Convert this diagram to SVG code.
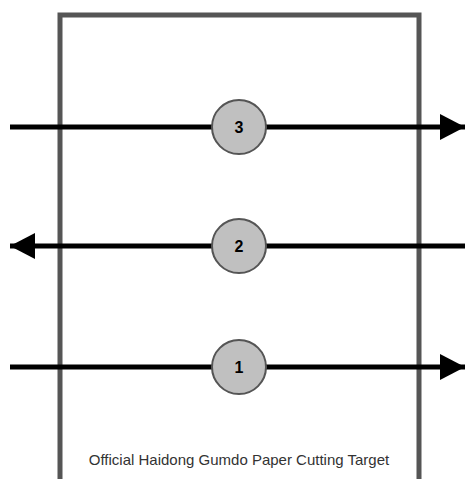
<svg xmlns="http://www.w3.org/2000/svg" width="465" height="479" viewBox="0 0 465 479">
<style>
.line{stroke:#000;stroke-width:5;fill:none}
.node circle{fill:#c0c0c0;stroke:#555;stroke-width:2}
.node text{font-family:"Liberation Sans",Arial,sans-serif;font-size:16px;font-weight:bold;fill:#000;text-anchor:middle}
.cap{font-family:"Liberation Sans",Arial,sans-serif;font-size:15px;fill:#333;text-anchor:middle}
</style>
<defs>
<marker id="ah" markerUnits="userSpaceOnUse" markerWidth="25" markerHeight="26" refX="25" refY="13" orient="auto">
<path d="M0,0 L25,13 L0,26 Z" fill="#000"/>
</marker>
</defs>
<g id="target">
<path d="M60,490 V15 H419 V490" fill="none" stroke="#555" stroke-width="5"/>
<text class="cap" x="239" y="465">Official Haidong Gumdo Paper Cutting Target</text>
</g>
<g id="connectors">
<line class="line" x1="10" y1="127" x2="465" y2="127" marker-end="url(#ah)"/>
<line class="line" x1="465" y1="246" x2="10" y2="246" marker-end="url(#ah)"/>
<line class="line" x1="10" y1="367" x2="465" y2="367" marker-end="url(#ah)"/>
</g>
<g id="n3" class="node"><circle cx="239" cy="127" r="27"/><text x="239" y="133">3</text></g>
<g id="n2" class="node"><circle cx="239" cy="246" r="27"/><text x="239" y="252">2</text></g>
<g id="n1" class="node"><circle cx="239" cy="367" r="27"/><text x="239" y="373">1</text></g>
</svg>
